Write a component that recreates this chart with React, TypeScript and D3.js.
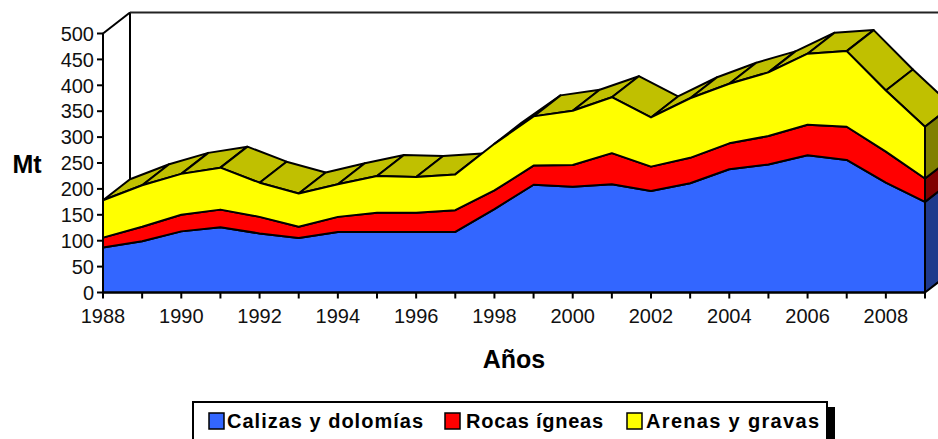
import React, { useEffect, useRef } from 'react';
import * as d3 from 'd3';

const years = d3.range(1988, 2010);
const calizas = [87, 99, 118, 126, 114, 105, 117, 117, 117, 117, 161, 208, 204, 209, 196, 211, 238, 247, 265, 256, 212, 175];
const rocas = [19, 28, 32, 34, 32, 22, 29, 37, 37, 42, 36, 37, 42, 60, 47, 49, 50, 55, 59, 64, 60, 45];
const arenas = [72, 80, 79, 81, 66, 64, 63, 71, 69, 69, 90, 95, 105, 108, 95, 115, 115, 123, 137, 146, 118, 100];

const seriesNames = ['Calizas y dolomías', 'Rocas ígneas', 'Arenas y gravas'];
const frontColors = ['#3366FF', '#FF0000', '#FFFF00'];
const sideColors = ['#1F3A8C', '#800000', '#808000'];
const topColor = '#C0C000';
const yTicks = d3.range(0, 501, 50);
const xLabelYears = years.filter(y => y % 2 === 0);

const W = 938;
const H = 439;
const FONT = '"Liberation Sans", Arial, sans-serif';

const App = () => {
  const svgRef = useRef<SVGSVGElement>(null);

  useEffect(() => {
    const svg = d3.select(svgRef.current);
    svg.selectAll('*').remove();

    const x = d3.scaleLinear().domain([1988, 2009]).range([103, 925]);
    const y = d3.scaleLinear().domain([0, 500]).range([292.5, 33.5]);
    const depth = { dx: 27, dy: -21 };

    const rows = years.map((yr, i) => ({ year: yr, c: calizas[i], r: rocas[i], a: arenas[i] }));
    const stack = d3.stack<any>().keys(['c', 'r', 'a'])(rows);

    const g = svg.append('g');

    // back wall / side wall edges
    const x0 = x(1988), yTop = y(500);
    g.append('line')
      .attr('x1', x0 + depth.dx).attr('y1', yTop + depth.dy)
      .attr('x2', x0 + depth.dx).attr('y2', y(0) + depth.dy)
      .attr('stroke', '#000').attr('stroke-width', 2);
    g.append('line')
      .attr('x1', x0 + depth.dx).attr('y1', yTop + depth.dy)
      .attr('x2', W + 40).attr('y2', yTop + depth.dy)
      .attr('stroke', '#222').attr('stroke-width', 2);
    g.append('line')
      .attr('x1', x0).attr('y1', yTop)
      .attr('x2', x0 + depth.dx).attr('y2', yTop + depth.dy)
      .attr('stroke', '#000').attr('stroke-width', 2);

    // top faces of the upper series
    const top = stack[stack.length - 1];
    const pt = (i: number, v: number) => [x(years[i]), y(v)];
    for (let i = 0; i < years.length - 1; i++) {
      const [ax, ay] = pt(i, top[i][1]);
      const [bx, by] = pt(i + 1, top[i + 1][1]);
      // skip faces turned away from the viewer
      const cross = (bx - ax) * depth.dy - (by - ay) * depth.dx;
      if (cross > 0) continue;
      g.append('path')
        .attr('d', `M${ax},${ay}L${bx},${by}L${bx + depth.dx},${by + depth.dy}L${ax + depth.dx},${ay + depth.dy}Z`)
        .attr('fill', topColor)
        .attr('stroke', '#000')
        .attr('stroke-width', 2)
        .attr('stroke-linejoin', 'round');
    }

    // right side faces
    const last = years.length - 1;
    stack.forEach((s, k) => {
      const xe = x(years[last]);
      const y1 = y(s[last][0]);
      const y2 = y(s[last][1]);
      g.append('path')
        .attr('d', `M${xe},${y1}L${xe},${y2}L${xe + depth.dx},${y2 + depth.dy}L${xe + depth.dx},${y1 + depth.dy}Z`)
        .attr('fill', sideColors[k])
        .attr('stroke', '#000')
        .attr('stroke-width', 2)
        .attr('stroke-linejoin', 'round');
    });

    // front faces
    const area = d3.area<any>()
      .x((d, i) => x(years[i]))
      .y0(d => y(d[0]))
      .y1(d => y(d[1]));
    stack.forEach((s, k) => {
      g.append('path')
        .attr('d', area(s as any))
        .attr('fill', frontColors[k])
        .attr('stroke', '#000')
        .attr('stroke-width', 2)
        .attr('stroke-linejoin', 'round');
    });

    // axes
    g.append('line')
      .attr('x1', x0).attr('y1', yTop).attr('x2', x0).attr('y2', y(0))
      .attr('stroke', '#000').attr('stroke-width', 2);
    g.append('line')
      .attr('x1', x0).attr('y1', y(0)).attr('x2', x(2009)).attr('y2', y(0))
      .attr('stroke', '#000').attr('stroke-width', 2);

    g.selectAll('.ytick')
      .data(yTicks)
      .enter()
      .append('line')
      .attr('x1', x0 - 6).attr('x2', x0)
      .attr('y1', d => y(d)).attr('y2', d => y(d))
      .attr('stroke', '#000').attr('stroke-width', 2);

    g.selectAll('.ylab')
      .data(yTicks)
      .enter()
      .append('text')
      .attr('x', 94)
      .attr('y', d => y(d))
      .attr('dy', '0.36em')
      .attr('text-anchor', 'end')
      .style('font-family', FONT)
      .style('font-size', '20px')
      .style('fill', '#111')
      .text(d => d);

    g.selectAll('.xtick')
      .data(years)
      .enter()
      .append('line')
      .attr('x1', d => x(d)).attr('x2', d => x(d))
      .attr('y1', y(0)).attr('y2', y(0) + 6)
      .attr('stroke', '#000').attr('stroke-width', 2);

    g.selectAll('.xlab')
      .data(xLabelYears)
      .enter()
      .append('text')
      .attr('x', d => x(d))
      .attr('y', 323)
      .attr('text-anchor', 'middle')
      .style('font-family', FONT)
      .style('font-size', '20px')
      .style('fill', '#111')
      .text(d => d);

    // axis titles
    g.append('text')
      .attr('x', 27).attr('y', 164).attr('dy', '0.36em')
      .attr('text-anchor', 'middle')
      .style('font-family', FONT)
      .style('font-size', '25px').style('font-weight', 'bold')
      .text('Mt');
    g.append('text')
      .attr('x', 514).attr('y', 368)
      .attr('text-anchor', 'middle')
      .style('font-family', FONT)
      .style('font-size', '25px').style('font-weight', 'bold')
      .text('Años');

    // legend
    const lx = 193, ly = 402, lw = 634;
    g.append('rect')
      .attr('x', lx + lw).attr('y', ly + 5).attr('width', 8).attr('height', 60)
      .attr('fill', '#000');
    g.append('rect')
      .attr('x', lx).attr('y', ly).attr('width', lw).attr('height', 60)
      .attr('fill', '#fff').attr('stroke', '#000').attr('stroke-width', 2);

    const swatchX = [209, 445, 627];
    const textX = [227, 466, 646];
    const textW = [196, 137, 173];
    seriesNames.forEach((name, k) => {
      g.append('rect')
        .attr('x', swatchX[k]).attr('y', 413).attr('width', 15).attr('height', 16)
        .attr('fill', frontColors[k]).attr('stroke', '#000').attr('stroke-width', 1.5);
      g.append('text')
        .attr('x', textX[k]).attr('y', 428)
        .attr('textLength', textW[k])
        .attr('lengthAdjust', 'spacing')
        .style('font-family', FONT)
        .style('font-size', '20px').style('font-weight', 'bold')
        .text(name);
    });
  }, []);

  return (
    <svg
      ref={svgRef}
      width={W}
      height={H}
      style={{ position: 'absolute', left: 0, top: 0, background: '#fff' }}
    />
  );
};

export default App;
